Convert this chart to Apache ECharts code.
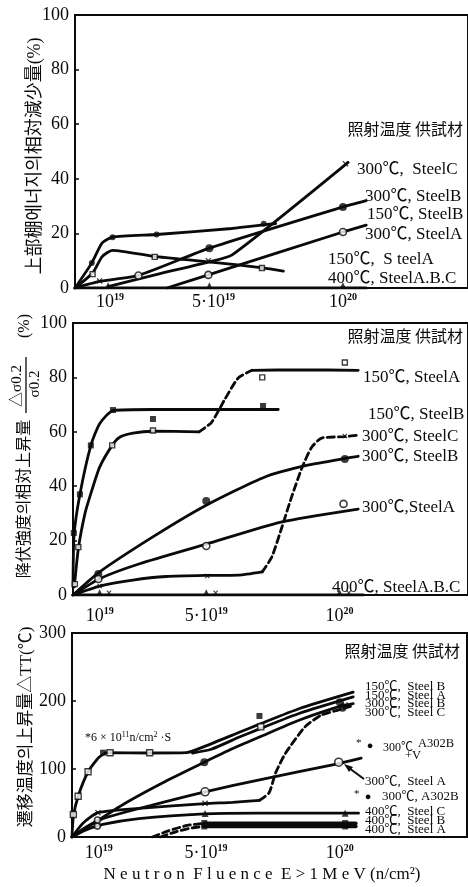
<!DOCTYPE html>
<html>
<head>
<meta charset="utf-8">
<script src="https://cdn.jsdelivr.net/npm/echarts@6/dist/echarts.min.js"></script>
<style>
  html, body { margin: 0; padding: 0; background: #fff; }
  #chart { width: 468px; height: 887px; }
</style>
</head>
<body>
<div id="chart"></div>
<script>
// Fluence axis: values in units of 1e19 n/cm^2
const xTickValues = [1, 5, 10];
const xTickBase = ['10', '5·10', '10'];
const xTickExp = ['19', '19', '20'];

// ---------- Panel 1: upper-shelf energy decrease (%) ----------
const p1_150B_line = [[-0.35, 0], [0.3, 9.2], [0.7, 16.5], [1.1, 18.6], [2.8, 19.6], [5.7, 21.8], [7.4, 23.6]];
const p1_150B_pts = [[0.3, 9.2], [1.1, 18.6], [2.8, 19.6], [6.94, 23.5]];
const p1_150A_line = [[-0.35, 0], [0.33, 5.5], [0.7, 11.5], [1.1, 13.8], [2.7, 11.6], [4.8, 9.6], [6.9, 7.4], [7.7, 6.2]];
const p1_150A_pts = [[0.33, 5.1], [2.73, 11.4], [6.87, 7.3]];
const p1_300C_line = [[0.93, 0.5], [2.9, 5.2], [4.8, 9.5], [5.72, 12.1], [10.2, 46]];
const p1_300C_pts = [[0.6, 2.6], [4.8, 10], [10.1, 45.5]];
const p1_300B_line = [[-0.35, 0], [0.6, 2.4], [2.1, 4.6], [4.84, 14.6], [10, 29.7], [10.9, 32]];
const p1_300B_pts = [[4.84, 14.6], [10, 29.7]];
const p1_300A_line = [[3.2, 0], [4.8, 4.8], [10, 20.5], [10.9, 23]];
const p1_300A_pts = [[2.1, 4.6], [4.8, 4.8], [10, 20.5]];
const p1_400_line = [[-0.35, 0], [10.9, 0]];
const p1_400_pts = [[0.93, 1], [4.84, 1], [10, 1]];

// ---------- Panel 2: yield strength increase (%) ----------
const p2_150A_solid1 = [[0.05, 3], [0.2, 17], [0.45, 30], [0.66, 37], [1.0, 47], [1.47, 55], [1.75, 58], [2.25, 59.5], [3, 60.2], [4.73, 60]];
const p2_150A_dash = [[4.73, 60], [5.2, 63.5], [5.7, 72], [6.2, 79.8], [6.72, 82.6]];
const p2_150A_solid2 = [[6.72, 82.6], [8.5, 82.8], [10.7, 82.6]];
const p2_150A_pts = [[0.07, 4], [0.2, 17.6], [1.47, 55], [3.0, 60.5], [7.1, 80], [10.2, 85.5]];
const p2_150B_line = [[0, 3], [0.04, 22], [0.26, 37], [0.67, 55], [1.0, 63], [1.5, 67.8], [3, 68.2], [7.7, 68.2]];
const p2_150B_pts = [[0.03, 22.8], [0.26, 37], [0.67, 55], [1.5, 68], [3.0, 64.7], [7.13, 69.5]];
const p2_300C_solid = [[0, 0], [1.0, 3.3], [2.25, 5.5], [3.5, 6.8], [5.04, 7.2], [6.2, 7.3], [7.1, 8.5]];
const p2_300C_dash = [[7.1, 8.5], [7.46, 14], [7.84, 25], [8.2, 36], [8.6, 47], [8.96, 54.4], [9.33, 57.7], [10.2, 58.2], [10.7, 58.8]];
const p2_300C_pts = [[1.0, 3.3], [5.04, 7.0], [10.2, 58.5]];
const p2_300B_line = [[0, 0], [1, 8.5], [3.1, 22], [5, 33], [7.2, 43.4], [8.85, 47.8], [10.2, 50.2], [10.7, 51]];
const p2_300B_pts = [[0.95, 7.7], [5.0, 34.6], [10.2, 50]];
const p2_300A_line = [[0, 0], [1, 6], [2.5, 11.5], [5, 18.7], [7.8, 26.8], [10.7, 31.6]];
const p2_300A_pts = [[0.95, 5.9], [5.0, 18], [10.15, 33.5]];
const p2_400_line = [[0, 0], [10.9, 0]];
const p2_400_tri = [[1.0, 1], [5.0, 1], [10, 1]];
const p2_400_x = [[1.35, 0.8], [5.35, 0.8], [10.35, 0.8]];

// ---------- Panel 3: transition temperature shift (°C) ----------
const p3_150B_line = [[0, 0], [0.05, 30], [0.23, 60], [0.6, 96], [1.0, 117], [1.3, 124], [2.9, 123.5], [4.27, 124], [5, 134], [6.25, 154], [7, 166], [8.5, 189], [10.5, 213]];
const p3_150A_line = [[4.5, 123.5], [5.2, 129], [6.25, 147], [7, 159], [8.5, 182], [10.5, 206]];
const p3_150_open = [[0.05, 33], [0.23, 60], [0.6, 96], [1.42, 124], [2.9, 124], [7.05, 162]];
const p3_150_filled = [[1.16, 124], [7.0, 178]];
const p3_300B_line = [[0, 0], [1, 25], [2, 50], [3.5, 82], [4.94, 110], [6, 130], [7, 147], [8.5, 172], [10, 192], [10.5, 196]];
const p3_300B_pts = [[4.94, 110], [10.0, 198], [10.1, 190]];
const p3_300C_solid = [[0, 0], [0.4, 20], [0.97, 35.7], [2.5, 42], [4.97, 49], [6, 51], [7, 54]];
const p3_300C_dash = [[7, 54], [7.36, 65], [7.6, 94], [7.97, 123], [8.7, 162], [9.3, 179], [9.96, 187], [10.4, 192]];
const p3_300C_pts = [[0.97, 35.7], [4.97, 49.5], [10.2, 194]];
const p3_300A_line = [[0, 0], [0.5, 14], [1.15, 27], [3, 47], [4.97, 66.5], [7, 84], [9.96, 108], [10.8, 116]];
const p3_300A_pts = [[4.97, 66.5], [9.96, 110]];
const p3_300A_low = [[0.95, 16], [0.95, 25]];
const p3_400C_line = [[0, 0], [0.5, 10], [1.15, 18.5], [2.5, 27], [4.94, 34], [7, 35], [10.7, 35]];
const p3_400C_pts = [[4.97, 34.5], [10.2, 35]];
const p3_400B_dash = [[3.0, 0], [3.6, 9], [4.3, 17], [4.94, 20]];
const p3_400B_line = [[4.94, 20], [10.6, 20]];
const p3_400A_dash = [[3.3, 0], [3.9, 8], [4.5, 13.5], [4.94, 15.5]];
const p3_400A_line = [[4.94, 15.5], [10.6, 15.5]];
const p3_400AB_pts = [[4.94, 15.5], [4.94, 20.5], [10.2, 15.5], [10.2, 20.5]];

const SERIF = '"Liberation Serif", "Noto Sans CJK JP", serif';
const INK = '#0a0a0a';
const CROSS = 'path://M0,1.5L1.5,0L5,3.5L8.5,0L10,1.5L6.5,5L10,8.5L8.5,10L5,6.5L1.5,10L0,8.5L3.5,5Z';

function curve(g, data, dashed, width) {
  return {
    type: 'line', xAxisIndex: g, yAxisIndex: g, data: data,
    smooth: 0.2, symbol: 'none', silent: true, z: 2,
    lineStyle: { color: INK, width: width || 2.8, type: dashed ? [7, 4] : 'solid', cap: 'round' }
  };
}
function marks(g, data, kind, size) {
  const s = {
    type: 'scatter', xAxisIndex: g, yAxisIndex: g, data: data, silent: true, z: 4,
    symbolSize: size || 6, itemStyle: { color: INK, borderColor: INK, borderWidth: 0 }
  };
  if (kind === 'openCircle') { s.symbol = 'circle'; s.itemStyle = { color: '#fff', borderColor: INK, borderWidth: 1.6 }; }
  else if (kind === 'dot') { s.symbol = 'circle'; }
  else if (kind === 'openSquare') { s.symbol = 'rect'; s.itemStyle = { color: '#fff', borderColor: INK, borderWidth: 1.4 }; }
  else if (kind === 'square') { s.symbol = 'rect'; }
  else if (kind === 'cross') { s.symbol = CROSS; }
  else if (kind === 'tri') { s.symbol = 'triangle'; }
  return s;
}

const grids = [
  { left: 75, top: 15, width: 396, height: 273 },
  { left: 73, top: 323, width: 398, height: 272 },
  { left: 72, top: 633, width: 395, height: 204 }
];
const xMin = [-0.35, 0, 0];
const xMax = [14.83, 14.82, 14.75];
const yMax = [100, 100, 300];
const yStep = [20, 20, 100];
const labelMargin = [4, 11, 6];

const xAxes = grids.map((g, i) => ({
  type: 'value', gridIndex: i, min: xMin[i], max: xMax[i],
  axisLine: { show: true, onZero: false, lineStyle: { color: INK, width: 2 } },
  axisTick: { show: false }, splitLine: { show: false },
  axisLabel: {
    customValues: xTickValues, margin: labelMargin[i], color: INK,
    formatter: v => {
      const k = xTickValues.indexOf(v);
      return k < 0 ? '' : '{b|' + xTickBase[k] + '}{s|' + xTickExp[k] + '}';
    },
    rich: {
      b: { fontFamily: SERIF, fontSize: 18, color: INK, lineHeight: 20 },
      s: { fontFamily: SERIF, fontSize: 10, fontWeight: 'bold', color: INK, verticalAlign: 'top', lineHeight: 10 }
    }
  }
}));
const yAxes = grids.map((g, i) => ({
  type: 'value', gridIndex: i, min: 0, max: yMax[i], interval: yStep[i],
  axisLine: { show: true, onZero: false, lineStyle: { color: INK, width: 2 } },
  axisTick: { show: true, inside: true, length: 4, lineStyle: { color: INK, width: 1.5 } },
  splitLine: { show: false },
  axisLabel: { fontFamily: SERIF, fontSize: 18, color: INK, margin: 6 }
}));

const series = [
  // panel 1
  curve(0, p1_400_line, false, 3.2),
  curve(0, p1_150B_line), curve(0, p1_150A_line), curve(0, p1_300C_line),
  curve(0, p1_300B_line), curve(0, p1_300A_line),
  marks(0, p1_150B_pts, 'dot', 6), marks(0, p1_150A_pts, 'openSquare', 5),
  marks(0, p1_300C_pts, 'cross', 6), marks(0, p1_300B_pts, 'dot', 8),
  marks(0, p1_300A_pts, 'openCircle', 7), marks(0, p1_400_pts, 'tri', 6),
  // panel 2
  curve(1, p2_400_line, false, 3.2),
  curve(1, p2_150A_solid1), curve(1, p2_150A_dash, true), curve(1, p2_150A_solid2),
  curve(1, p2_150B_line), curve(1, p2_300C_solid), curve(1, p2_300C_dash, true),
  curve(1, p2_300B_line), curve(1, p2_300A_line),
  marks(1, p2_150A_pts, 'openSquare', 5), marks(1, p2_150B_pts, 'square', 6),
  marks(1, p2_300C_pts, 'cross', 5), marks(1, p2_300B_pts, 'dot', 8),
  marks(1, p2_300A_pts, 'openCircle', 7), marks(1, p2_400_tri, 'tri', 6),
  marks(1, p2_400_x, 'cross', 5),
  // panel 3
  curve(2, p3_150B_line), curve(2, p3_150A_line), curve(2, p3_300B_line),
  curve(2, p3_300C_solid), curve(2, p3_300C_dash, true), curve(2, p3_300A_line),
  curve(2, p3_400C_line), curve(2, p3_400B_dash, true), curve(2, p3_400B_line, false, 3.6),
  curve(2, p3_400A_dash, true), curve(2, p3_400A_line, false, 3.6),
  marks(2, p3_150_open, 'openSquare', 6), marks(2, p3_150_filled, 'square', 6),
  marks(2, p3_300B_pts, 'dot', 8), marks(2, p3_300C_pts, 'cross', 6),
  marks(2, p3_300A_pts, 'openCircle', 8), marks(2, p3_300A_low, 'openCircle', 6),
  marks(2, p3_400C_pts, 'tri', 7), marks(2, p3_400AB_pts, 'square', 6)
];

function txt(x, y, text, size, align, extra) {
  return Object.assign({
    type: 'text', x: x, y: y, silent: true, z: 10,
    style: { text: text, fontFamily: SERIF, fontSize: size, fill: INK, align: align || 'left', verticalAlign: 'middle' }
  }, extra || {});
}
const CJK = '"Noto Sans CJK JP", sans-serif';
function head(x, y) {
  const t = txt(x, y, '照射温度 供試材', 16, 'right');
  t.style.fontFamily = CJK;
  return t;
}

const graphic = [
  // y-axis titles
  txt(35, 156, '上部棚에너지의相対減少量(%)', 18, 'center', { rotation: Math.PI / 2 }),
  {
    type: 'group', x: 25, y: 447, rotation: Math.PI / 2, silent: true,
    children: [
      txt(-52, 0, '降伏強度의相対上昇量', 16, 'center'),
      txt(61, -8, '△σ0.2', 15, 'center'),
      { type: 'line', shape: { x1: 34, y1: 1, x2: 90, y2: 1 }, style: { stroke: INK, lineWidth: 1.3 } },
      txt(63, 10, 'σ0.2', 15, 'center'),
      txt(121, 0, '(%)', 16, 'center')
    ]
  },
  txt(27, 727, '遷移温度의上昇量△TT(℃)', 17, 'center', { rotation: Math.PI / 2 }),

  // panel 1 annotations
  head(463, 129),
  txt(357, 170, '300℃,  SteelC', 17),
  txt(365, 197, '300℃, SteelB', 17),
  txt(367, 215, '150℃, SteelB', 17),
  txt(365, 235, '300℃, SteelA', 17),
  txt(328, 260, '150℃,  S teelA', 17),
  txt(328, 279, '400℃, SteelA.B.C', 17),

  // panel 2 annotations
  head(463, 336),
  txt(363, 378, '150℃, SteelA', 17),
  txt(368, 415, '150℃, SteelB', 17),
  txt(362, 437, '300℃, SteelC', 17),
  txt(362, 457, '300℃, SteelB', 17),
  txt(362, 508, '300℃,SteelA', 17),
  txt(332, 588, '400℃, SteelA.B.C', 17),

  // panel 3 annotations
  head(460, 651),
  txt(365, 687, '150℃,  Steel B', 13),
  txt(365, 695.5, '150℃,  Steel A', 13),
  txt(365, 704, '300℃,  Steel B', 13),
  txt(365, 712.5, '300℃,  Steel C', 13),
  txt(356, 743, '*', 11),
  txt(370, 746, '●', 11, 'center'),
  txt(383, 748, '300℃', 12),
  txt(418, 744, 'A302B', 12.5),
  txt(405, 756, '+V', 12.5),
  txt(365, 782, '300℃,  Steel A', 13),
  txt(354, 794, '*', 11),
  txt(368, 797, '●', 11, 'center'),
  txt(382, 797, '300℃, A302B', 13),
  txt(365, 812, '400℃,  Steel C', 13),
  txt(365, 821, '400℃,  Steel B', 13),
  txt(365, 830, '400℃,  Steel A', 13),
  {
    type: 'text', x: 85, y: 738, silent: true, z: 10,
    style: {
      text: '{a|*6 × 10}{s|11}{a|n/cm}{s|2}{a| ·S}', verticalAlign: 'middle', align: 'left',
      rich: {
        a: { fontFamily: SERIF, fontSize: 12, fill: INK, lineHeight: 14 },
        s: { fontFamily: SERIF, fontSize: 8, fill: INK, verticalAlign: 'top', lineHeight: 8 }
      }
    }
  },
  { type: 'line', silent: true, z: 10, shape: { x1: 364, y1: 779, x2: 349, y2: 768 }, style: { stroke: INK, lineWidth: 2 } },
  { type: 'polygon', silent: true, z: 10, shape: { points: [[344, 764], [353, 767], [349, 772]] }, style: { fill: INK } },

  // shared x-axis title
  txt(262, 875, 'N e u t r o n  F l u e n c e  E > 1 M e V (n/cm²)', 17, 'center')
];

const chart = echarts.init(document.getElementById('chart'), null, { renderer: 'canvas' });
chart.setOption({
  animation: false,
  backgroundColor: '#fff',
  grid: grids.map(g => Object.assign({ show: true, borderColor: INK, borderWidth: 2, backgroundColor: 'transparent' }, g)),
  xAxis: xAxes,
  yAxis: yAxes,
  series: series,
  graphic: graphic
});
</script>
</body>
</html>
